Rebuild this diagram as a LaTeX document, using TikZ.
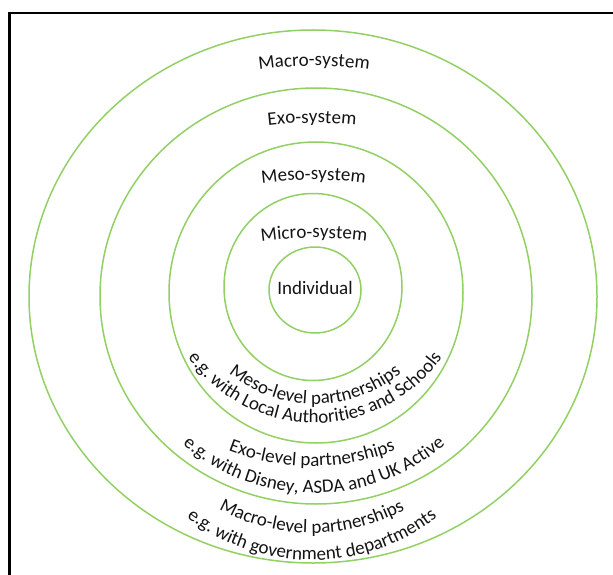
\documentclass[tikz,border=0pt]{standalone}
\usepackage{fontspec}
\usetikzlibrary{decorations.text}
\newfontfamily\carl{Carlito}
\newcommand\labfont{\carl\fontsize{19}{22}\selectfont}
\definecolor{ringgreen}{RGB}{146,208,100}
\definecolor{labelink}{RGB}{20,20,20}
\tikzset{ring/.style={draw=ringgreen,line width=1.5pt}}
% bottom text: centre x, centre y (image coords), radius, text
\newcommand\bottext[4]{\path[decorate,decoration={text along path,text align=center,text={|\labfont\color{labelink}|#4}}] (#1,-#2) ++(180:#3) arc[start angle=180,end angle=360,radius=#3];}
% top text: centre x, baseline y at top (image coords), radius, text
\newcommand\toptext[4]{\path[decorate,decoration={text along path,text align=center,text={|\labfont\color{labelink}|#4}}] (#1,-#2-#3) ++(150:#3) arc[start angle=150,end angle=30,radius=#3];}
\begin{document}
\begin{tikzpicture}[x=1pt,y=1pt]
\useasboundingbox (0,0) rectangle (613,-575);
\begin{scope}
\clip (0,0) rectangle (613,-575);
\draw[line width=2.8pt] (9.7,-600) |- (620,-13);
\end{scope}
% rings
\draw[ring] (313,-296.5) ellipse [x radius=284,y radius=266.5];
\draw[ring] (316,-296) ellipse [x radius=216,y radius=208];
\draw[ring] (316,-292.5) ellipse [x radius=147,y radius=150.5];
\draw[ring] (313,-287) ellipse [x radius=89,y radius=93.5];
\draw[ring] (315,-290) ellipse [x radius=46,y radius=43];
% top labels
\toptext{314}{66}{400}{Macro-system}
\toptext{312}{123}{400}{Exo-system}
\toptext{313.5}{180}{400}{Meso-system}
\toptext{314}{238}{400}{Micro-system}
\node[anchor=base,inner sep=0pt,font=\labfont,text=labelink] (ind) at (315,-294) {Individual};
% bottom labels
\bottext{315}{267}{137}{Meso-level partnerships}
\bottext{315}{267}{156}{e.g. with Local Authorities and Schools}
\bottext{312}{236}{230}{Exo-level partnerships}
\bottext{314}{290}{203}{e.g. with Disney, ASDA and UK Active}
\bottext{312}{337}{196}{Macro-level partnerships}
\bottext{312}{355}{205}{e.g. with government departments}
\end{tikzpicture}
\end{document}
